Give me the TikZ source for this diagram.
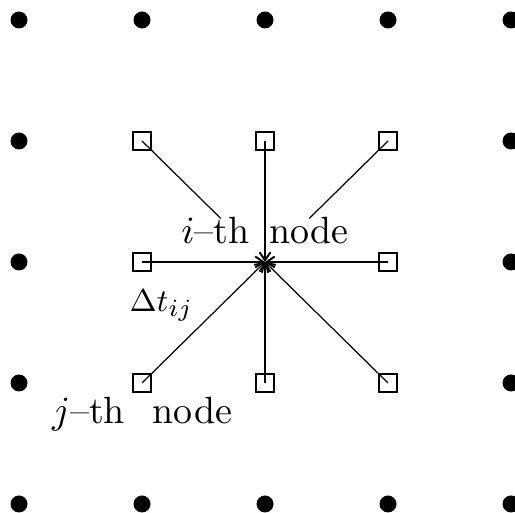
\documentclass[tikz,border=0pt]{standalone}
\usepackage{amsmath,amssymb}
\usepackage{tikz}
\usetikzlibrary{positioning, calc, arrows.meta}

\begin{document}
\begin{tikzpicture}[
    x=1.23cm, y=1.21cm,
    dot/.style={circle, fill=black, inner sep=0pt, minimum size=0.17cm},
    site/.style={rectangle, draw=black, line width=0.55pt, inner sep=0pt, minimum size=0.175cm},
    link/.style={line width=0.35pt},
    tolink/.style={link, -{Straight Barb[length=0.8mm, width=1.1mm, line width=0.55pt]}},
    lbl/.style={inner sep=1pt, font=\fontsize{10.8}{13}\selectfont},
]
\useasboundingbox (-0.1545,-0.0744) rectangle (4.0325,4.165);

% outer lattice points
\foreach \i in {0,...,4} {
  \node[dot] (b\i) at (\i,0) {};
  \node[dot] (t\i) at (\i,4) {};
}
\foreach \j in {1,2,3} {
  \node[dot] (l\j) at (0,\j) {};
  \node[dot] (r\j) at (4,\j) {};
}

% the i-th node and its neighbours
\coordinate (inode) at (2,2);
\node[site] (ul) at (1,3) {};
\node[site] (um) at (2,3) {};
\node[site] (ur) at (3,3) {};
\node[site] (ml) at (1,2) {};
\node[site] (mr) at (3,2) {};
\node[site] (ll) at (1,1) {};
\node[site] (lm) at (2,1) {};
\node[site] (lr) at (3,1) {};

\coordinate (ulend) at ($(inode)!0.36!(ul)$);
\coordinate (urend) at ($(inode)!0.36!(ur)$);

\draw[link] (ul.center) -- (ulend);
\draw[tolink] (um.center) -- (inode);
\draw[link] (ur.center) -- (urend);
\draw[tolink] (ml.center) -- (inode);
\draw[tolink] (mr.center) -- (inode);
\draw[tolink] (ll.center) -- node[pos=0.45, anchor=south east, yshift=0.03cm, inner sep=1pt, font=\fontsize{9.5}{11}\selectfont] (dtij) {$\Delta t_{ij}$} (inode);
\draw[tolink] (lm.center) -- (inode);
\draw[tolink] (lr.center) -- (inode);

\node[lbl, above=0.14cm of inode] (ilabel) {$i$--th\hspace{0.2cm}node};
\node[lbl, below=0cm of ll] (jlabel) {$j$--th\hspace{0.28cm}node};

\end{tikzpicture}
\end{document}
